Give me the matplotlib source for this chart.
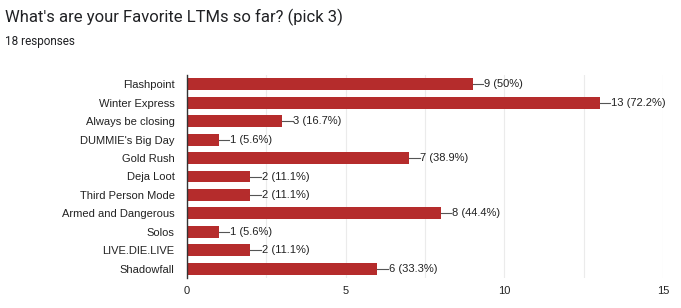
import matplotlib.pyplot as plt
import numpy as np

categories = ["Flashpoint", "Winter Express", "Always be closing", "DUMMIE's Big Day",
              "Gold Rush", "Deja Loot", "Third Person Mode", "Armed and Dangerous",
              "Solos", "LIVE.DIE.LIVE", "Shadowfall"]
counts = [9, 13, 3, 1, 7, 2, 2, 8, 1, 2, 6]
percents = ["50%", "72.2%", "16.7%", "5.6%", "38.9%", "11.1%", "11.1%", "44.4%", "5.6%", "11.1%", "33.3%"]
xticks = [0, 5, 10, 15]

bar_color = "#b52c2c"
text_color = "#222222"

fig = plt.figure(figsize=(6.81, 3.08), dpi=100)
fig.patch.set_facecolor("white")

fig.text(5 / 681, 1 - 17 / 308, "What's are your Favorite LTMs so far? (pick 3)",
         fontsize=12, family="Roboto", color="#202124", va="center")
fig.text(5 / 681, 1 - 42 / 308, "18 responses", fontsize=8.5, family="Roboto",
         color="#202124", va="center")

ax = fig.add_axes([187 / 681, 1 - 278 / 308, (663 - 187) / 681, (278 - 75) / 308])
y = np.arange(len(categories))
ax.barh(y, counts, height=0.65, color=bar_color, zorder=3)

ax.set_xlim(0, 15)
ax.set_ylim(len(categories) - 0.5, -0.5)
ax.set_yticks(y)
ax.set_yticklabels(categories, family="Liberation Sans", fontsize=8, color=text_color)
ax.set_xticks(xticks)
ax.set_xticklabels([str(t) for t in xticks], family="Liberation Sans", fontsize=8, color=text_color)
ax.set_xticks(np.arange(0, 15.1, 2.5), minor=True)
ax.grid(axis="x", which="both", color="#ebebeb", linewidth=0.8, zorder=0)
ax.tick_params(axis="both", which="both", length=0, pad=6)
ax.tick_params(axis="y", pad=9)

for s in ["top", "right", "bottom"]:
    ax.spines[s].set_visible(False)
ax.spines["left"].set_color("#333333")
ax.spines["left"].set_linewidth(1)
ax.spines["left"].set_zorder(4)

for i, (c, p) in enumerate(zip(counts, percents)):
    ax.plot([c, c + 0.33], [i, i], color="#555555", linewidth=0.8, zorder=3)
    ax.text(c + 0.35, i, f"{c} ({p})", va="center", ha="left",
            family="Liberation Sans", fontsize=8, color=text_color)

plt.savefig("out.png", dpi=100)
